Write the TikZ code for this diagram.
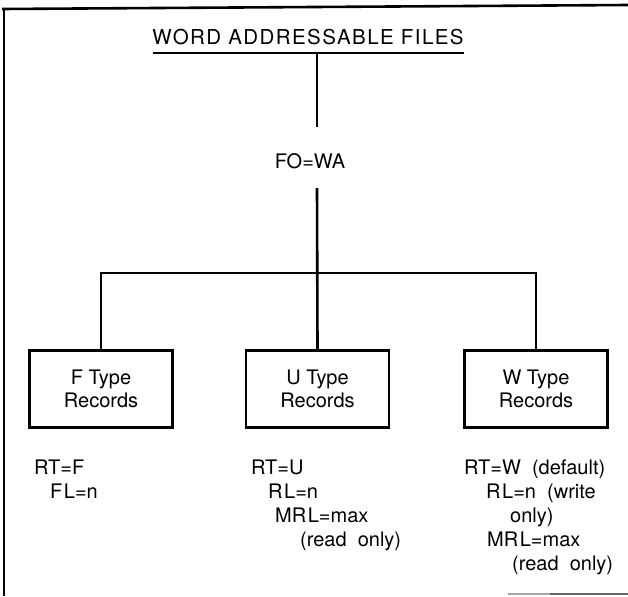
\documentclass[tikz,border=0pt]{standalone}
\usepackage{fontspec}
\setmainfont{TeX Gyre Heros}
\newfontfamily\titlefont[LetterSpace=7]{TeX Gyre Heros}
\begin{document}
\begin{tikzpicture}[x=1pt,y=-1pt,
  rule/.style={line width=2.6pt},
  txt/.style={font=\fontsize{20}{24}\selectfont, inner sep=0pt},
  ttl/.style={font=\titlefont\fontsize{20.5}{24}\selectfont, inner sep=0pt},
  recbox/.style={draw, line width=2.6pt, minimum width=143pt, minimum height=77pt,
    align=center, font=\fontsize{20}{23}\selectfont, inner sep=0pt},
  faint/.style={line width=1.6pt, black!35}]
\useasboundingbox (0,0) rectangle (628,596);
% frame
\coordinate (ftl) at (2,9);
\coordinate (ftr) at (628,5);
\coordinate (flt) at (4,8);
\coordinate (flb) at (4,596);
\draw[rule] (ftl) -- (ftr);
\draw[rule] (flt) -- (flb);
\coordinate (bb1) at (508,594);
\coordinate (bb2) at (550,594);
\coordinate (bb3) at (628,594);
\draw[faint] (bb1) -- (bb2);
\draw[faint, black!60, line width=2pt] (bb2) -- (bb3);
% title
\node[ttl, anchor=base] (title) at (308,45) {WORD ADDRESSABLE FILES};
\coordinate (ul) at (153,53);
\coordinate (ur) at (464,53);
\draw[rule] (ul) -- (ur);
\coordinate (t1) at (317,53);
\coordinate (t2) at (317,127);
\draw[rule] (t1) -- (t2);
\node[txt, anchor=base] (fo) at (310,168) {FO=WA};
\coordinate (t3) at (317,188);
\coordinate (bar) at (317,273);
% boxes
\node[recbox] (fbox) at (101,389) {F Type\\Records};
\node[recbox] (ubox) at (317.5,389) {U Type\\Records};
\node[recbox] (wbox) at (536,389) {W Type\\Records};
\draw[rule] (fbox.north) -- (fbox.north |- bar) -- (wbox.north |- bar) -- (wbox.north);
\draw[rule] (t3) -- (ubox.north);
% notes
\node[txt, anchor=base west] (rtf) at (34,474) {RT=F};
\node[txt, anchor=base west] (flf) at (50,498) {F\kern1.5pt L=n};
\node[txt, anchor=base west] (rtu) at (251,474) {RT=U};
\node[txt, anchor=base west] (rlu) at (268,498) {R\kern1.5pt L=n};
\node[txt, anchor=base west] (mrlu) at (275,522) {MR\kern1.5pt L=max};
\node[txt, anchor=base west] (rou) at (300,546) {(read\ \ only)};
\node[txt, anchor=base west] (rtw) at (464,474) {RT=W\ \ (default)};
\node[txt, anchor=base west] (rlw) at (486,498) {R\kern1.5pt L=n\ \ (write};
\node[txt, anchor=base west] (onw) at (510,522) {only)};
\node[txt, anchor=base west] (mrlw) at (487,546) {MR\kern1.5pt L=max};
\node[txt, anchor=base west] (row) at (512,570) {(read\ \ only)};
\end{tikzpicture}
\end{document}
